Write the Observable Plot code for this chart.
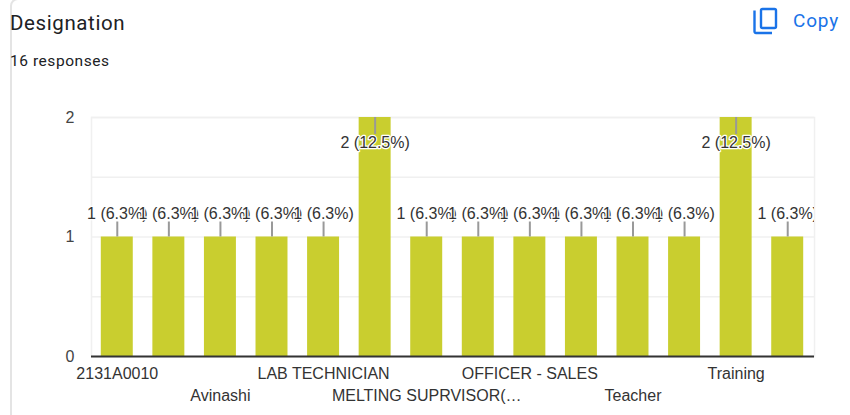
<!DOCTYPE html>
<html>
<head>
<meta charset="utf-8">
<script src="https://cdn.jsdelivr.net/npm/d3@7"></script>
<script src="https://cdn.jsdelivr.net/npm/@observablehq/plot@0.6"></script>
<style>
html,body{margin:0;padding:0;background:#fff;overflow:hidden}
#page{position:relative;width:850px;height:415px;overflow:hidden}
#card{position:absolute;left:10px;top:-2px;width:900px;height:500px;border:2px solid #e4e4e4;border-radius:8px;box-sizing:border-box}
#head{position:relative;height:95px}
#title{position:absolute;left:10px;top:10px;font:400 20.5px/26px Roboto,sans-serif;letter-spacing:.6px;color:#202124}
#sub{position:absolute;left:10px;top:51px;font:400 15.5px/20px Roboto,sans-serif;letter-spacing:.55px;color:#202124}
#copy{position:absolute;left:793px;top:9px;font:400 19px/24px Roboto,sans-serif;letter-spacing:.8px;color:#1a73e8}
#icon{position:absolute;left:750px;top:5px}
svg.plot{position:relative;display:block}
</style>
</head>
<body>
<div id="page">
  <div id="card"></div>
  <div id="head">
    <div id="title">Designation</div>
    <div id="sub">16 responses</div>
    <svg id="icon" width="30" height="30" viewBox="0 0 30 30" fill="none" stroke="#1a73e8" stroke-width="2.4">
      <rect x="11" y="4" width="15" height="19" rx="1.5"></rect>
      <path d="M4.5 5.5V26.5a1.5 1.5 0 0 0 1.5 1.5H22"></path>
    </svg>
    <div id="copy">Copy</div>
  </div>
  <div id="chart"></div>
</div>
<script>
const positions = d3.range(14);
const counts = [1, 1, 1, 1, 1, 2, 1, 1, 1, 1, 1, 1, 2, 1];
const percents = ["6.3", "6.3", "6.3", "6.3", "6.3", "12.5", "6.3", "6.3", "6.3", "6.3", "6.3", "6.3", "12.5", "6.3"];
const tickLabels = ["2131A0010", "", "Avinashi", "", "LAB TECHNICIAN", "", "MELTING SUPRVISOR(…", "", "OFFICER - SALES", "", "Teacher", "", "Training", ""];
const upperRow = [0, 4, 8, 12];
const lowerRow = [2, 6, 10];
const yTicks = [0, 1, 2];
const gridTicks = [0.5, 1, 1.5, 2];

const rows = positions.map(i => ({i, v: counts[i], label: `${counts[i]} (${percents[i]}%)`}));
const ones = rows.filter(d => d.v === 1);
const twos = rows.filter(d => d.v === 2);
const lastOne = ones[ones.length - 1];
const font = "'Liberation Sans', Arial, sans-serif";
const labelStyle = {x: "i", text: "label", fill: "#333", stroke: "white", strokeWidth: 2.5, paintOrder: "stroke", fontSize: 16};

const chart = Plot.plot({
  width: 850,
  height: 320,
  marginLeft: 91,
  marginRight: 36,
  marginTop: 22,
  marginBottom: 59,
  style: {fontFamily: font, fontSize: "16px", background: "transparent", overflow: "visible"},
  x: {domain: positions, range: [91, 813], round: false, paddingInner: 0.38, paddingOuter: 0.19, label: null},
  y: {domain: [0, 2], label: null},
  marks: [
    Plot.gridY(gridTicks, {stroke: "#f0f0f0", strokeOpacity: 1, strokeWidth: 1.5}),
    Plot.frame({stroke: "#f0f0f0", strokeWidth: 1.5}),
    Plot.barY(rows, {x: "i", y: "v", fill: "#c9ce2f"}),
    Plot.ruleY([0], {stroke: "#333", strokeWidth: 2}),
    Plot.ruleX(ones, {x: "i", y1: "v", y2: "v", insetTop: -15, stroke: "#999", strokeWidth: 2}),
    Plot.ruleX(twos, {x: "i", y1: "v", y2: "v", insetBottom: -17, stroke: "#999", strokeWidth: 2}),
    Plot.text(ones.slice(0, -1), {...labelStyle, y: "v", dy: -23}),
    Plot.text([lastOne], {...labelStyle, y: "v", dy: -23, clip: "frame"}),
    Plot.text(twos, {...labelStyle, y: "v", dy: 25}),
    Plot.axisY(yTicks, {tickSize: 0, tickPadding: 17, fontSize: 16, color: "#444", label: null, tickFormat: d3.format("d")}),
    Plot.axisX(upperRow, {tickSize: 0, tickPadding: 11, fontSize: 16, color: "#333", label: null, tickFormat: i => tickLabels[i]}),
    Plot.axisX(lowerRow, {tickSize: 0, tickPadding: 33, fontSize: 16, color: "#333", label: null, tickFormat: i => tickLabels[i]})
  ]
});
document.getElementById("chart").appendChild(chart);
</script>
</body>
</html>
